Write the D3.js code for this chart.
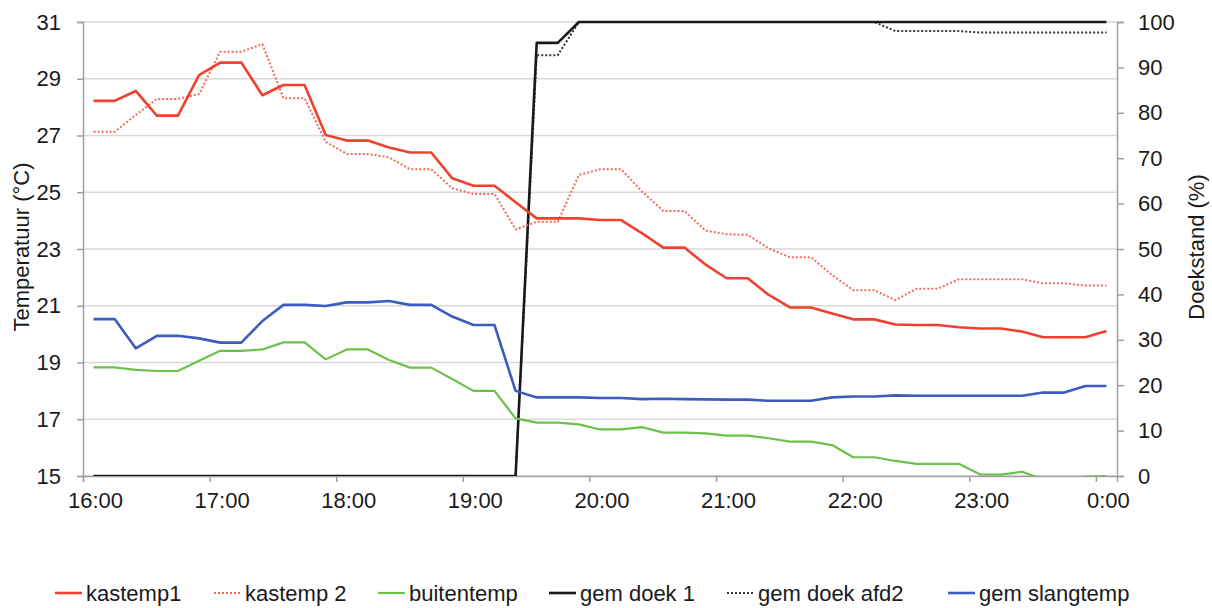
<!DOCTYPE html>
<html>
<head>
<meta charset="utf-8">
<script src="https://cdn.jsdelivr.net/npm/d3@7"></script>
<style>
  html, body { margin: 0; padding: 0; background: #fff; }
  svg { display: block; font-family: "Liberation Sans", Arial, Helvetica, sans-serif; }
</style>
</head>
<body>
<svg id="chart" width="1212" height="608"></svg>
<script>
// Measurement times (10-minute intervals)
const times = [
  "16:05","16:15","16:25","16:35","16:45","16:55",
  "17:05","17:15","17:25","17:35","17:45","17:55",
  "18:05","18:15","18:25","18:35","18:45","18:55",
  "19:05","19:15","19:25","19:35","19:45","19:55",
  "20:05","20:15","20:25","20:35","20:45","20:55",
  "21:05","21:15","21:25","21:35","21:45","21:55",
  "22:05","22:15","22:25","22:35","22:45","22:55",
  "23:05","23:15","23:25","23:35","23:45","23:55",
  "00:05"
];

// Temperatures (°C)
const kastemp1 = [28.22,28.22,28.57,27.70,27.70,29.13,29.57,29.57,28.42,28.78,
  28.78,27.02,26.82,26.82,26.58,26.40,26.40,25.49,25.23,25.23,
  24.65,24.08,24.08,24.08,24.02,24.02,23.55,23.05,23.05,22.45,
  21.97,21.97,21.38,20.94,20.94,20.73,20.52,20.52,20.34,20.32,
  20.32,20.24,20.20,20.20,20.09,19.89,19.89,19.89,20.11];
const kastemp2 = [27.13,27.13,27.72,28.29,28.29,28.46,29.95,29.95,30.22,28.31,
  28.31,26.78,26.35,26.35,26.23,25.81,25.81,25.14,24.94,24.94,
  23.69,23.96,23.96,25.61,25.81,25.81,25.02,24.34,24.34,23.65,
  23.52,23.50,23.02,22.71,22.71,22.08,21.55,21.55,21.20,21.60,
  21.60,21.93,21.93,21.93,21.93,21.79,21.79,21.71,21.71];
const buitentemp = [18.83,18.83,18.74,18.70,18.70,19.06,19.41,19.41,19.46,19.71,
  19.71,19.11,19.46,19.46,19.09,18.82,18.82,18.42,18.00,18.00,
  17.03,16.88,16.88,16.82,16.64,16.64,16.72,16.53,16.53,16.50,
  16.42,16.42,16.33,16.21,16.21,16.09,15.66,15.66,15.53,15.43,
  15.43,15.43,15.06,15.05,15.15,14.88,14.85,14.98,15.00];
const slangtemp = [20.53,20.53,19.50,19.94,19.94,19.85,19.70,19.70,20.46,21.03,
  21.03,20.99,21.12,21.12,21.17,21.03,21.03,20.62,20.32,20.32,
  18.00,17.77,17.77,17.77,17.75,17.75,17.71,17.72,17.71,17.70,
  17.69,17.69,17.65,17.65,17.65,17.77,17.80,17.80,17.84,17.83,
  17.83,17.83,17.83,17.83,17.83,17.94,17.94,18.17,18.17];

// Screen positions (%)
const doek1 = [0,0,0,0,0,0,0,0,0,0, 0,0,0,0,0,0,0,0,0,0,
  0,95.4,95.4,100,100,100,100,100,100,100,
  100,100,100,100,100,100,100,100,100,100,
  100,100,100,100,100,100,100,100,100];
const doek2 = [0,0,0,0,0,0,0,0,0,0, 0,0,0,0,0,0,0,0,0,0,
  0,92.7,92.7,100,100,100,100,100,100,100,
  100,100,100,100,100,100,100,100,98,98,
  98,98,97.7,97.7,97.7,97.7,97.7,97.7,97.7];

// Axis ticks
const hourTicks = ["16:00","17:00","18:00","19:00","20:00","21:00","22:00","23:00","00:00"];
const hourLabels = ["16:00","17:00","18:00","19:00","20:00","21:00","22:00","23:00","0:00"];
const tempTicks = [15,17,19,21,23,25,27,29,31];
const pctTicks = [0,10,20,30,40,50,60,70,80,90,100];

const svg = d3.select("#chart");
const W = 1212, H = 608;
const m = { left: 83, right: 1117, top: 22, bottom: 476 };

const parseT = s => {
  const [h, mm] = s.split(":").map(Number);
  // times after midnight belong to the next day
  return new Date(2000, 0, h < 12 ? 2 : 1, h, mm);
};

const x = d3.scaleTime()
  .domain([parseT("16:00"), parseT("00:10")])
  .range([m.left, m.right]);
const yT = d3.scaleLinear().domain([15, 31]).range([m.bottom, m.top]);
const yP = d3.scaleLinear().domain([0, 100]).range([m.bottom, m.top]);

const textColor = "#1a1a1a";
const axisColor = "#a0a0a0";

svg.append("rect").attr("width", W).attr("height", H).attr("fill", "#fff");

// Horizontal gridlines
svg.append("g").selectAll("line").data(tempTicks).join("line")
  .attr("x1", m.left).attr("x2", m.right)
  .attr("y1", d => yT(d)).attr("y2", d => yT(d))
  .attr("stroke", "#d9d9d9").attr("stroke-width", 1.6);

// Left axis
const leftAxis = svg.append("g")
  .attr("transform", `translate(${m.left},0)`)
  .call(d3.axisLeft(yT).tickValues(tempTicks).tickSize(6).tickPadding(16).tickFormat(d3.format("d")));
leftAxis.select(".domain").attr("stroke", axisColor).attr("stroke-width", 1.5);
leftAxis.selectAll(".tick line").attr("stroke", axisColor).attr("stroke-width", 1.5);
leftAxis.selectAll("text").attr("font-size", 22).attr("fill", textColor)
  .attr("font-family", "Liberation Sans, Arial, sans-serif");

// Right axis
const rightAxis = svg.append("g")
  .attr("transform", `translate(${m.right},0)`)
  .call(d3.axisRight(yP).tickValues(pctTicks).tickSize(7).tickPadding(14).tickFormat(d3.format("d")));
rightAxis.select(".domain").attr("stroke", axisColor).attr("stroke-width", 1.5);
rightAxis.selectAll(".tick line").attr("stroke", axisColor).attr("stroke-width", 1.5);
rightAxis.selectAll("text").attr("font-size", 22).attr("fill", textColor)
  .attr("font-family", "Liberation Sans, Arial, sans-serif");

// Bottom axis
const bottomAxis = svg.append("g")
  .attr("transform", `translate(0,${m.bottom})`)
  .call(d3.axisBottom(x).tickValues(hourTicks.map(parseT)).tickSize(6).tickPadding(10)
    .tickFormat((d, i) => hourLabels[i]));
bottomAxis.select(".domain").attr("stroke", axisColor).attr("stroke-width", 1.5);
bottomAxis.selectAll(".tick line").attr("stroke", axisColor).attr("stroke-width", 1.5);
bottomAxis.selectAll("text").attr("font-size", 22).attr("fill", textColor)
  .attr("dx", 12)
  .attr("font-family", "Liberation Sans, Arial, sans-serif");

// Axis titles
svg.append("text")
  .attr("transform", `translate(21,247) rotate(-90)`)
  .attr("text-anchor", "middle").attr("dominant-baseline", "central")
  .attr("font-size", 22).attr("fill", textColor)
  .text("Temperatuur (°C)");
svg.append("text")
  .attr("transform", `translate(1196,247) rotate(-90)`)
  .attr("text-anchor", "middle").attr("dominant-baseline", "central")
  .attr("font-size", 22).attr("fill", textColor)
  .text("Doekstand (%)");

// Clip the series to the plotting area
svg.append("defs").append("clipPath").attr("id", "plotClip")
  .append("rect").attr("x", m.left).attr("y", m.top - 3)
  .attr("width", m.right - m.left).attr("height", m.bottom - m.top + 3);

const tx = times.map(parseT);

const series = [
  { name: "kastemp1",      values: kastemp1,   scale: yT, color: "#f0412f", width: 2.6, dash: null },
  { name: "kastemp 2",     values: kastemp2,   scale: yT, color: "#f26a5a", width: 2.0, dash: "2,2" },
  { name: "buitentemp",    values: buitentemp, scale: yT, color: "#6cc14c", width: 2.2, dash: null },
  { name: "gem doek 1",    values: doek1,      scale: yP, color: "#1a1a1a", width: 2.6, dash: null },
  { name: "gem doek afd2", values: doek2,      scale: yP, color: "#333333", width: 2.0, dash: "2,2" },
  { name: "gem slangtemp", values: slangtemp,  scale: yT, color: "#3c5cc0", width: 2.6, dash: null }
];

// Draw order: screen lines under temperatures, black solid over its dotted twin
const drawOrder = ["gem doek afd2", "gem doek 1", "buitentemp", "gem slangtemp", "kastemp 2", "kastemp1"];
const plot = svg.append("g").attr("clip-path", "url(#plotClip)");
drawOrder.forEach(n => {
  const s = series.find(d => d.name === n);
  const line = d3.line().x((d, i) => x(tx[i])).y(d => s.scale(d));
  plot.append("path")
    .datum(s.values)
    .attr("d", line)
    .attr("fill", "none")
    .attr("stroke", s.color)
    .attr("stroke-width", s.width)
    .attr("stroke-linejoin", "round")
    .attr("stroke-dasharray", s.dash);
});

// Legend
const legendX = [55, 214, 378, 549, 727, 948];
const legend = svg.append("g");
series.forEach((s, i) => {
  const g = legend.append("g").attr("transform", `translate(${legendX[i]},593)`);
  g.append("line").attr("x1", 0).attr("x2", 27).attr("y1", 0).attr("y2", 0)
    .attr("stroke", s.color).attr("stroke-width", s.width)
    .attr("stroke-dasharray", s.dash);
  g.append("text").attr("x", 31).attr("y", 0).attr("dominant-baseline", "central")
    .attr("font-size", 22).attr("fill", textColor).text(s.name);
});
</script>
</body>
</html>
